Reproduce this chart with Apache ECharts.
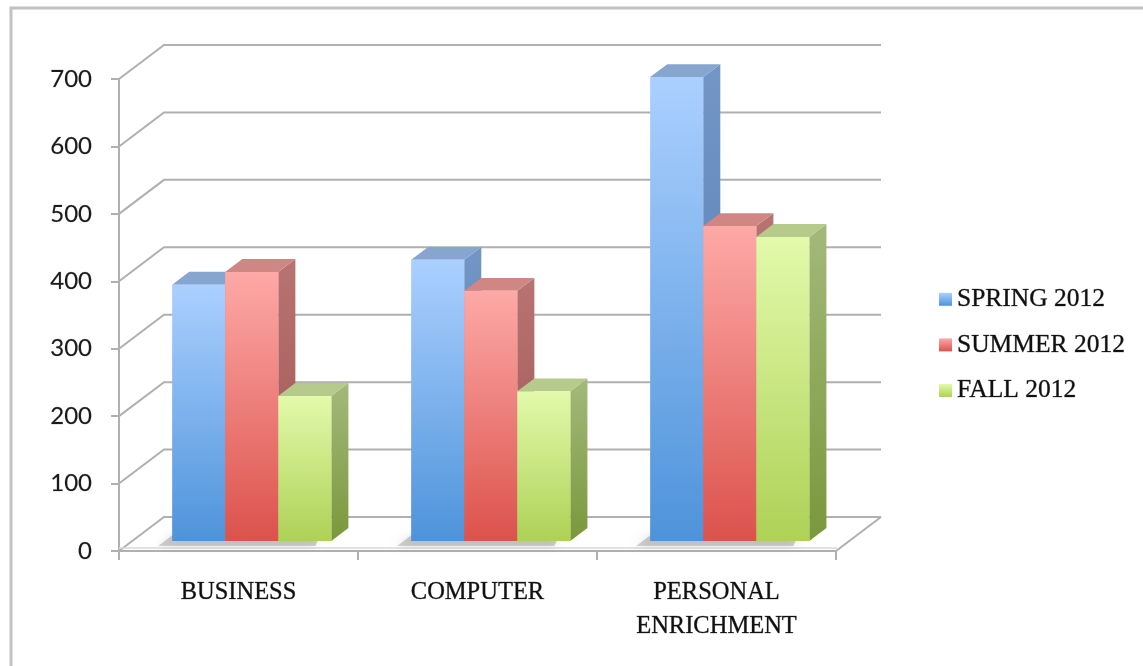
<!DOCTYPE html>
<html>
<head>
<meta charset="utf-8">
<script src="https://cdn.jsdelivr.net/npm/echarts@6/dist/echarts.min.js"></script>
<style>
  html, body { margin: 0; padding: 0; background: #ffffff; }
  #chart { width: 1143px; height: 666px; }
</style>
</head>
<body>
<div id="chart"></div>
<script>
// ---- data ----
const categories = ['BUSINESS', 'COMPUTER', 'PERSONAL\nENRICHMENT'];
const seriesNames = ['SPRING 2012', 'SUMMER 2012', 'FALL 2012'];
const spring = [380, 417, 688];
const summer = [399, 371, 467];
const fall = [215, 222, 451];
const valueTicks = [0, 100, 200, 300, 400, 500, 600, 700];

// ---- 3D look ----
const FLOOR_DX = 45;      // depth of the floor / side wall, horizontal
const FLOOR_DY = 34;      // depth of the floor / side wall, vertical
const BAR_FRONT = 0.294;  // where the bar front sits inside the floor depth
const BAR_DEPTH = 0.38;   // bar depth as a share of the floor depth
const BAR_FRAC = 0.222;   // bar width as a share of a category band
const GRID_COLOR = '#b0b0b0';

const palettes = [
  { front: ['#abd0ff', '#4e93da'], side: ['#7396c6', '#5279ad'], top: '#86a6d0' },
  { front: ['#fda9a7', '#dc524c'], side: ['#b87472', '#9e5250'], top: '#d08683' },
  { front: ['#e2faab', '#aed156'], side: ['#a3b97a', '#7a983c'], top: '#b5ca8b' }
];

function vGrad(c0, c1) {
  return { type: 'linear', x: 0, y: 0, x2: 0, y2: 1,
    colorStops: [{ offset: 0, color: c0 }, { offset: 1, color: c1 }] };
}

function barRenderer(slot, pal) {
  return function (params, api) {
    const cat = api.value(0);
    const val = api.value(1);
    const base = api.coord([cat, 0]);
    const head = api.coord([cat, val]);
    const band = api.size([1, 0])[0];
    const w = band * BAR_FRAC;
    const ox = FLOOR_DX * BAR_FRONT, oy = FLOOR_DY * BAR_FRONT;
    const dx = FLOOR_DX * BAR_DEPTH, dy = FLOOR_DY * BAR_DEPTH;
    const groupLeft = base[0] + ox - 1.5 * w;
    const x0 = groupLeft + slot * w;
    const x1 = x0 + w;
    const yb = base[1] - oy;
    const yt = head[1] - oy;
    const children = [];
    if (slot === 0) {
      // soft shadow of the whole group cast on the floor
      const gx1 = groupLeft + 3 * w;
      children.push({
        type: 'polygon',
        shape: { points: [[groupLeft - 14, yb + 5], [groupLeft + dx - 14, yb - dy + 5],
                          [gx1 - 10, yb - dy + 5], [gx1 - 16, yb + 5]] },
        style: { fill: 'rgba(90,90,90,0.28)', shadowBlur: 10, shadowColor: 'rgba(0,0,0,0.4)' }
      });
    }
    children.push({
      type: 'polygon',
      shape: { points: [[x1, yb], [x1, yt], [x1 + dx, yt - dy], [x1 + dx, yb - dy]] },
      style: { fill: vGrad(pal.side[0], pal.side[1]) }
    });
    children.push({
      type: 'polygon',
      shape: { points: [[x0, yt], [x0 + dx, yt - dy], [x1 + dx, yt - dy], [x1, yt]] },
      style: { fill: pal.top }
    });
    children.push({
      type: 'rect',
      shape: { x: x0, y: yt, width: w, height: yb - yt },
      style: { fill: vGrad(pal.front[0], pal.front[1]) }
    });
    return { type: 'group', children: children };
  };
}

// back wall, side wall and floor lines, one set per value tick
function wallRenderer(params, api) {
  const cs = params.coordSys;
  const v = api.value(1);
  const y = api.coord([0, v])[1];
  const xl = cs.x, xr = cs.x + cs.width;
  const lineStyle = { stroke: GRID_COLOR, lineWidth: 2, fill: 'none' };
  const children = [
    { type: 'polyline',
      shape: { points: [[xl, y], [xl + FLOOR_DX, y - FLOOR_DY], [xr + FLOOR_DX, y - FLOOR_DY]] },
      style: lineStyle }
  ];
  if (v === 0) {
    children.push({ type: 'line',
      shape: { x1: xr, y1: y, x2: xr + FLOOR_DX, y2: y - FLOOR_DY }, style: lineStyle });
    children.push({ type: 'line',
      shape: { x1: xl, y1: y - 3, x2: xr + 1, y2: y - 3 },
      style: { stroke: '#d8d8d8', lineWidth: 1.5 } });
  }
  return { type: 'group', children: children };
}

const chart = echarts.init(document.getElementById('chart'), null, { renderer: 'canvas' });

const barSeries = [spring, summer, fall].map(function (vals, i) {
  return {
    name: seriesNames[i],
    type: 'custom',
    z: 3,
    itemStyle: { color: palettes[i].front[1] },
    renderItem: barRenderer(i, palettes[i]),
    data: vals.map(function (v, k) { return [k, v]; })
  };
});

const serifText = {
  fontFamily: 'Liberation Serif',
  color: '#101010',
  textBorderColor: 'rgba(16,16,16,0.55)',
  textBorderWidth: 0.6
};

chart.setOption({
  backgroundColor: '#ffffff',
  animation: false,
  graphic: [{
    type: 'rect', z: -10,
    shape: { x: 11, y: 8, width: 1300, height: 800 },
    style: { fill: 'none', stroke: '#c2c2c2', lineWidth: 3 }
  }],
  grid: { left: 119, top: 79, width: 717, height: 472, outerBoundsMode: 'none' },
  legend: {
    orient: 'vertical',
    left: 934,
    top: 281,
    itemWidth: 13,
    itemHeight: 13,
    itemGap: 19,
    icon: 'rect',
    textStyle: Object.assign({ fontSize: 25.5, lineHeight: 26 }, serifText),
    data: seriesNames.map(function (n, i) {
      return { name: n, itemStyle: { color: vGrad(palettes[i].front[0], palettes[i].front[1]) } };
    })
  },
  xAxis: {
    type: 'category',
    data: categories,
    boundaryGap: true,
    axisLine: { show: true, lineStyle: { color: GRID_COLOR, width: 2 } },
    axisTick: { show: true, length: 9, lineStyle: { color: GRID_COLOR, width: 2 } },
    axisLabel: Object.assign({ margin: 25, fontSize: 24.5, lineHeight: 34 }, serifText),
    splitLine: { show: false }
  },
  yAxis: {
    type: 'value',
    min: 0,
    max: 700,
    interval: 100,
    axisLine: { show: true, lineStyle: { color: GRID_COLOR, width: 2 } },
    axisTick: { show: true, length: 8, lineStyle: { color: GRID_COLOR, width: 2 } },
    axisLabel: {
      margin: 27,
      fontFamily: 'Lato',
      fontSize: 24,
      color: '#1a1a1a',
      textBorderColor: 'rgba(26,26,26,0.4)',
      textBorderWidth: 0.4
    },
    splitLine: { show: false }
  },
  series: [{
    name: 'walls',
    type: 'custom',
    z: 1,
    silent: true,
    renderItem: wallRenderer,
    data: valueTicks.map(function (v) { return [0, v]; })
  }].concat(barSeries)
});
</script>
</body>
</html>
